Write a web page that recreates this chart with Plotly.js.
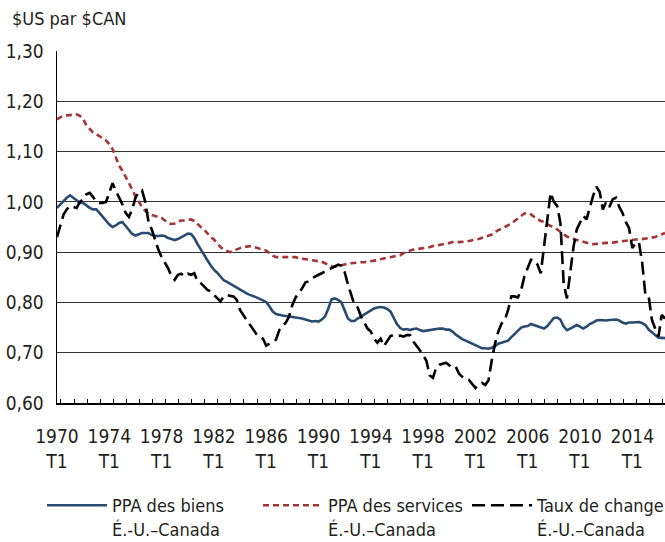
<!DOCTYPE html>
<html>
<head>
<meta charset="utf-8">
<script src="https://cdn.plot.ly/plotly-3.0.1.min.js"></script>
<style>html,body{margin:0;padding:0;background:#fff;}#chart{width:665px;height:542px;}</style>
</head>
<body>
<div id="chart"></div>
<script>
// Quarterly data, 1970 T1 .. 2016 T3
const startYear = 1970;

const goodsPPP = [
  0.988, 0.995, 1.002, 1.008,  // 1970
  1.013, 1.008, 1.002, 0.998,  // 1971
  0.998, 0.993, 0.988, 0.985,  // 1972
  0.985, 0.978, 0.970, 0.962,  // 1973
  0.955, 0.950, 0.953, 0.958,  // 1974
  0.960, 0.952, 0.943, 0.936,  // 1975
  0.933, 0.935, 0.938, 0.938,  // 1976
  0.938, 0.934, 0.932, 0.932,  // 1977
  0.933, 0.932, 0.928, 0.926,  // 1978
  0.924, 0.926, 0.930, 0.933,  // 1979
  0.937, 0.936, 0.928, 0.916,  // 1980
  0.905, 0.893, 0.884, 0.874,  // 1981
  0.865, 0.859, 0.851, 0.844,  // 1982
  0.841, 0.837, 0.833, 0.829,  // 1983
  0.826, 0.822, 0.818, 0.815,  // 1984
  0.813, 0.810, 0.807, 0.804,  // 1985
  0.801, 0.792, 0.782, 0.777,  // 1986
  0.775, 0.774, 0.773, 0.772,  // 1987
  0.772, 0.771, 0.769, 0.768,  // 1988
  0.766, 0.764, 0.762, 0.763,  // 1989
  0.762, 0.766, 0.772, 0.788,  // 1990
  0.806, 0.808, 0.805, 0.800,  // 1991
  0.784, 0.768, 0.763, 0.763,  // 1992
  0.768, 0.772, 0.776, 0.781,  // 1993
  0.785, 0.788, 0.790, 0.791,  // 1994
  0.790, 0.787, 0.782, 0.770,  // 1995
  0.757, 0.749, 0.746, 0.747,  // 1996
  0.745, 0.747, 0.748, 0.745,  // 1997
  0.743, 0.744, 0.745, 0.747,  // 1998
  0.748, 0.748, 0.748, 0.746,  // 1999
  0.746, 0.742, 0.736, 0.731,  // 2000
  0.727, 0.724, 0.721, 0.718,  // 2001
  0.715, 0.712, 0.709, 0.709,  // 2002
  0.708, 0.710, 0.713, 0.718,  // 2003
  0.720, 0.721, 0.724, 0.731,  // 2004
  0.737, 0.743, 0.750, 0.752,  // 2005
  0.753, 0.757, 0.755, 0.752,  // 2006
  0.750, 0.748, 0.753, 0.761,  // 2007
  0.769, 0.770, 0.766, 0.752,  // 2008
  0.745, 0.748, 0.752, 0.755,  // 2009
  0.752, 0.748, 0.752, 0.757,  // 2010
  0.760, 0.764, 0.765, 0.764,  // 2011
  0.764, 0.765, 0.766, 0.766,  // 2012
  0.764, 0.760, 0.758, 0.760,  // 2013
  0.760, 0.760, 0.761, 0.759,  // 2014
  0.755, 0.746, 0.740, 0.735,  // 2015
  0.730, 0.729, 0.729          // 2016
];

const servicesPPP = [
  1.164, 1.168, 1.172, 1.172,  // 1970
  1.173, 1.174, 1.174, 1.171,  // 1971
  1.165, 1.152, 1.145, 1.138,  // 1972
  1.135, 1.130, 1.126, 1.122,  // 1973
  1.115, 1.105, 1.090, 1.072,  // 1974
  1.062, 1.050, 1.040, 1.025,  // 1975
  1.011, 1.000, 0.990, 0.982,  // 1976
  0.976, 0.974, 0.972, 0.970,  // 1977
  0.968, 0.963, 0.958, 0.956,  // 1978
  0.957, 0.961, 0.963, 0.963,  // 1979
  0.964, 0.965, 0.962, 0.955,  // 1980
  0.950, 0.945, 0.937, 0.930,  // 1981
  0.925, 0.917, 0.910, 0.905,  // 1982
  0.902, 0.900, 0.903, 0.906,  // 1983
  0.908, 0.910, 0.911, 0.912,  // 1984
  0.911, 0.909, 0.907, 0.905,  // 1985
  0.903, 0.898, 0.893, 0.890,  // 1986
  0.890, 0.890, 0.890, 0.891,  // 1987
  0.891, 0.890, 0.888, 0.887,  // 1988
  0.886, 0.886, 0.885, 0.883,  // 1989
  0.882, 0.881, 0.878, 0.874,  // 1990
  0.872, 0.871, 0.872, 0.874,  // 1991
  0.876, 0.877, 0.878, 0.879,  // 1992
  0.879, 0.880, 0.880, 0.881,  // 1993
  0.881, 0.882, 0.884, 0.886,  // 1994
  0.888, 0.889, 0.890, 0.891,  // 1995
  0.892, 0.894, 0.898, 0.901,  // 1996
  0.903, 0.905, 0.906, 0.906,  // 1997
  0.907, 0.908, 0.910, 0.912,  // 1998
  0.913, 0.914, 0.915, 0.917,  // 1999
  0.918, 0.920, 0.921, 0.920,  // 2000
  0.920, 0.921, 0.922, 0.924,  // 2001
  0.925, 0.926, 0.928, 0.930,  // 2002
  0.932, 0.935, 0.940, 0.944,  // 2003
  0.947, 0.950, 0.953, 0.957,  // 2004
  0.962, 0.967, 0.972, 0.977,  // 2005
  0.978, 0.975, 0.970, 0.966,  // 2006
  0.962, 0.960, 0.956, 0.952,  // 2007
  0.950, 0.945, 0.940, 0.935,  // 2008
  0.931, 0.928, 0.926, 0.924,  // 2009
  0.922, 0.920, 0.918, 0.917,  // 2010
  0.916, 0.916, 0.917, 0.918,  // 2011
  0.918, 0.918, 0.919, 0.920,  // 2012
  0.921, 0.922, 0.922, 0.923,  // 2013
  0.924, 0.925, 0.925, 0.926,  // 2014
  0.926, 0.927, 0.928, 0.930,  // 2015
  0.933, 0.936, 0.938          // 2016
];

const exchangeRate = [
  0.930, 0.955, 0.975, 0.985,  // 1970
  0.992, 0.990, 0.988, 1.000,  // 1971
  1.005, 1.015, 1.018, 1.010,  // 1972
  1.000, 0.998, 0.998, 1.000,  // 1973
  1.018, 1.037, 1.022, 1.010,  // 1974
  0.995, 0.978, 0.970, 0.985,  // 1975
  1.008, 1.020, 1.023, 1.000,  // 1976
  0.960, 0.945, 0.925, 0.905,  // 1977
  0.890, 0.878, 0.868, 0.852,  // 1978
  0.845, 0.855, 0.857, 0.852,  // 1979
  0.857, 0.855, 0.858, 0.842,  // 1980
  0.838, 0.832, 0.825, 0.822,  // 1981
  0.815, 0.808, 0.802, 0.812,  // 1982
  0.815, 0.813, 0.812, 0.805,  // 1983
  0.785, 0.775, 0.765, 0.757,  // 1984
  0.745, 0.737, 0.732, 0.728,  // 1985
  0.714, 0.718, 0.723, 0.726,  // 1986
  0.745, 0.752, 0.760, 0.772,  // 1987
  0.795, 0.810, 0.818, 0.828,  // 1988
  0.840, 0.842, 0.848, 0.852,  // 1989
  0.855, 0.858, 0.862, 0.866,  // 1990
  0.868, 0.872, 0.875, 0.873,  // 1991
  0.860, 0.836, 0.815, 0.795,  // 1992
  0.790, 0.772, 0.760, 0.748,  // 1993
  0.742, 0.728, 0.720, 0.728,  // 1994
  0.713, 0.722, 0.733, 0.735,  // 1995
  0.733, 0.734, 0.732, 0.735,  // 1996
  0.735, 0.722, 0.714, 0.705,  // 1997
  0.695, 0.684, 0.655, 0.650,  // 1998
  0.670, 0.676, 0.678, 0.680,  // 1999
  0.675, 0.670, 0.672, 0.658,  // 2000
  0.652, 0.647, 0.646, 0.638,  // 2001
  0.630, 0.638, 0.640, 0.636,  // 2002
  0.645, 0.685, 0.718, 0.742,  // 2003
  0.758, 0.765, 0.785, 0.812,  // 2004
  0.812, 0.810, 0.825, 0.852,  // 2005
  0.868, 0.885, 0.884, 0.875,  // 2006
  0.858, 0.910, 0.965, 1.018,  // 2007
  1.000, 0.992, 0.958, 0.838,  // 2008
  0.808, 0.855, 0.910, 0.945,  // 2009
  0.960, 0.972, 0.965, 0.990,  // 2010
  1.012, 1.030, 1.020, 0.985,  // 2011
  1.000, 0.990, 1.005, 1.008,  // 2012
  0.990, 0.978, 0.960, 0.948,  // 2013
  0.908, 0.918, 0.920, 0.880,  // 2014
  0.815, 0.812, 0.765, 0.748,  // 2015
  0.732, 0.775, 0.768          // 2016
];

const tickYears = [1970, 1974, 1978, 1982, 1986, 1990, 1994, 1998, 2002, 2006, 2010, 2014];
const tickLabels = tickYears.map(y => y + '<br>T1');

const seriesNames = [
  'PPA des biens<br>É.-U.–Canada',
  'PPA des services<br>É.-U.–Canada',
  'Taux de change<br>É.-U.–Canada'
];
const yAxisLabel = '$US par $CAN';

// quarter positions in decimal years
const xq = goodsPPP.map((_, i) => startYear + i / 4);

const FONT = '"DejaVu Sans Condensed", "Liberation Sans Narrow", sans-serif';
const TXT = '#231f20';

const traces = [
  { x: xq, y: goodsPPP, name: seriesNames[0], type: 'scatter', mode: 'lines', legend: 'legend',
    line: { color: '#284b71', width: 2.6 } },
  { x: xq, y: servicesPPP, name: seriesNames[1], type: 'scatter', mode: 'lines', legend: 'legend2',
    line: { color: '#a53535', width: 2.6, dash: '6px,4px' } },
  { x: xq, y: exchangeRate, name: seriesNames[2], type: 'scatter', mode: 'lines', legend: 'legend3',
    line: { color: '#000000', width: 2.6, dash: '13px,6px' } }
];

// plot area in pixels: x 57..665, y 51..403
function legendAt(px) {
  return {
    x: (px - 57) / 608, xanchor: 'left',
    y: (403 - 487) / 352, yanchor: 'top',
    orientation: 'v', valign: 'top',
    bgcolor: 'rgba(0,0,0,0)', borderwidth: 0,
    font: { family: FONT, size: 18, color: TXT },
    itemwidth: 60
  };
}

const layout = {
  width: 665, height: 542,
  margin: { l: 57, r: 0, t: 51, b: 139, pad: 0, autoexpand: false },
  paper_bgcolor: '#ffffff', plot_bgcolor: '#ffffff',
  separators: ', ',
  font: { family: FONT, size: 19, color: TXT },
  showlegend: true,
  legend: legendAt(42),
  legend2: legendAt(258),
  legend3: legendAt(467),
  xaxis: {
    type: 'linear',
    range: [startYear, startYear + (goodsPPP.length - 1) / 4],
    tickmode: 'array', tickvals: tickYears, ticktext: tickLabels,
    ticks: '', ticklabelstandoff: 16,
    showgrid: false, zeroline: false,
    showline: true, linecolor: '#000', linewidth: 1.5,
    minor: { ticks: 'inside', ticklen: 4, tickcolor: '#000', tickwidth: 1,
             tick0: 1970.3, dtick: 1, showgrid: false },
    tickfont: { family: FONT, size: 19, color: TXT },
    fixedrange: true
  },
  yaxis: {
    range: [0.6, 1.3], tickmode: 'linear', tick0: 0.6, dtick: 0.1,
    tickformat: '.2f', ticks: '', ticklabelstandoff: 8,
    showgrid: true, gridcolor: '#333333', gridwidth: 1.2,
    zeroline: false, showline: true, linecolor: '#000', linewidth: 1.5,
    tickfont: { family: FONT, size: 19, color: TXT },
    fixedrange: true
  },
  annotations: [
    { text: yAxisLabel, xref: 'paper', yref: 'paper', x: -57 / 608 + 10 / 608, y: 1 + (51 - 18) / 352,
      xanchor: 'left', yanchor: 'middle', showarrow: false,
      font: { family: FONT, size: 18, color: TXT } }
  ]
};

Plotly.newPlot('chart', traces, layout, { displayModeBar: false, staticPlot: true });
</script>
</body>
</html>
